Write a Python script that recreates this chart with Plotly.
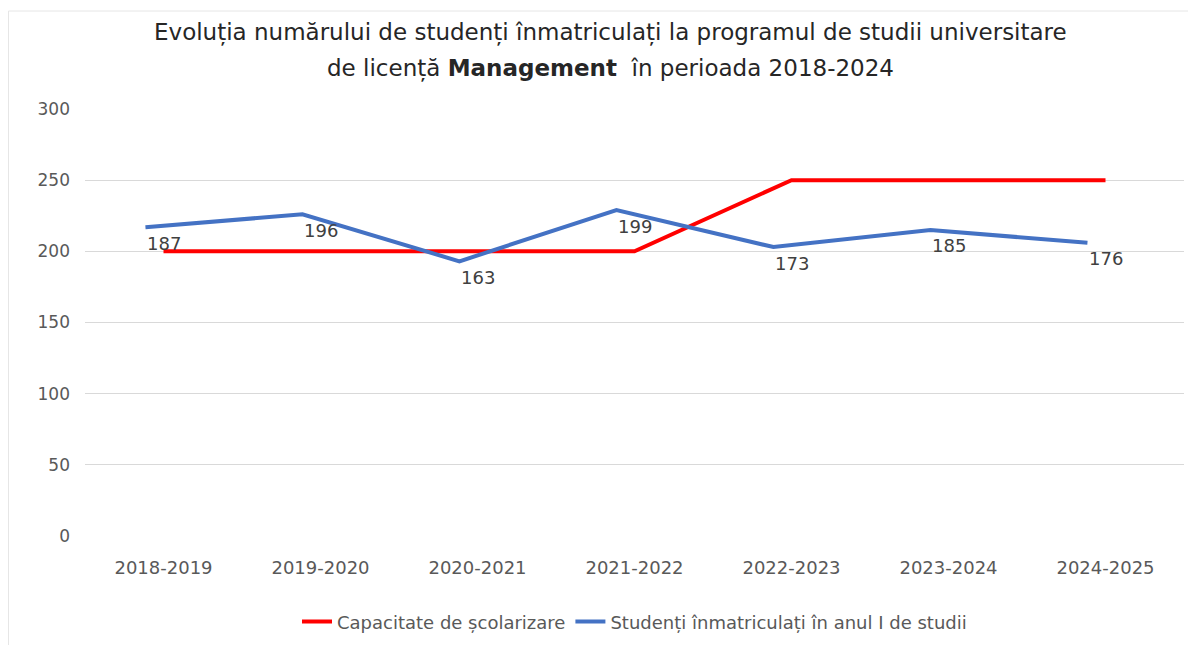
import plotly.graph_objects as go

categories = ["2018-2019", "2019-2020", "2020-2021", "2021-2022", "2022-2023", "2023-2024", "2024-2025"]
capacitate = [200, 200, 200, 200, 250, 250, 250]
studenti = [187, 196, 163, 199, 173, 185, 176]
y_ticks = [0, 50, 100, 150, 200, 250, 300]

FONT = "DejaVu Sans"
fig = go.Figure()

fig.add_trace(go.Scatter(
    x=categories, y=capacitate, mode="lines", name="Capacitate de școlarizare",
    line=dict(color="#FF0000", width=4), xaxis="x", yaxis="y"))

fig.add_trace(go.Scatter(
    x=categories, y=studenti, mode="lines", name="Studenți înmatriculați în anul I de studii",
    line=dict(color="#4472C4", width=4), xaxis="x2", yaxis="y2"))

for cat, val in zip(categories, studenti):
    fig.add_annotation(x=cat, y=val, xref="x", yref="y2", text=str(val), showarrow=False,
                       xanchor="center", yanchor="middle", yshift=-16,
                       font=dict(family=FONT, size=18, color="#404040"))

fig.update_layout(
    width=1180, height=637,
    paper_bgcolor="white", plot_bgcolor="white",
    margin=dict(l=77, r=4, t=101, b=109),
    xaxis=dict(type="category", categoryarray=categories, range=[-0.5, 6.5],
               showgrid=False, showline=False, ticks="", zeroline=False,
               tickfont=dict(family=FONT, size=18, color="#595959"), ticklabelstandoff=19),
    xaxis2=dict(type="category", categoryarray=categories, overlaying="x",
                range=[-0.5 + 0.115, 6.5 + 0.115], visible=False),
    yaxis=dict(range=[0, 300], tickvals=y_ticks, showgrid=True, gridcolor="#D9D9D9",
               gridwidth=1, zeroline=False, showline=False, ticks="",
               tickfont=dict(family=FONT, size=17, color="#595959"), ticklabelstandoff=14),
    yaxis2=dict(range=[-30, 270], overlaying="y", visible=False),
    legend=dict(orientation="h", x=0.5, xanchor="center", y=-0.201, yanchor="middle",
                font=dict(family=FONT, size=18, color="#595959")),
    showlegend=True,
)

fig.add_annotation(text="Evoluția numărului de studenți înmatriculați la programul de studii universitare",
                   xref="paper", yref="paper", x=0.4786, y=1.1803, xanchor="center", yanchor="middle",
                   showarrow=False, font=dict(family=FONT, size=23, color="#262626"))
fig.add_annotation(text="de licență <b>Management</b>  în perioada 2018-2024",
                   xref="paper", yref="paper", x=0.4786, y=1.096, xanchor="center", yanchor="middle",
                   showarrow=False, font=dict(family=FONT, size=23, color="#262626"))

fig.add_shape(type="rect", xref="paper", yref="paper", x0=-0.0696, x1=1.05, y0=-0.5, y1=1.2295,
              line=dict(color="#E6E6E6", width=1))

fig.write_html("out.html")
